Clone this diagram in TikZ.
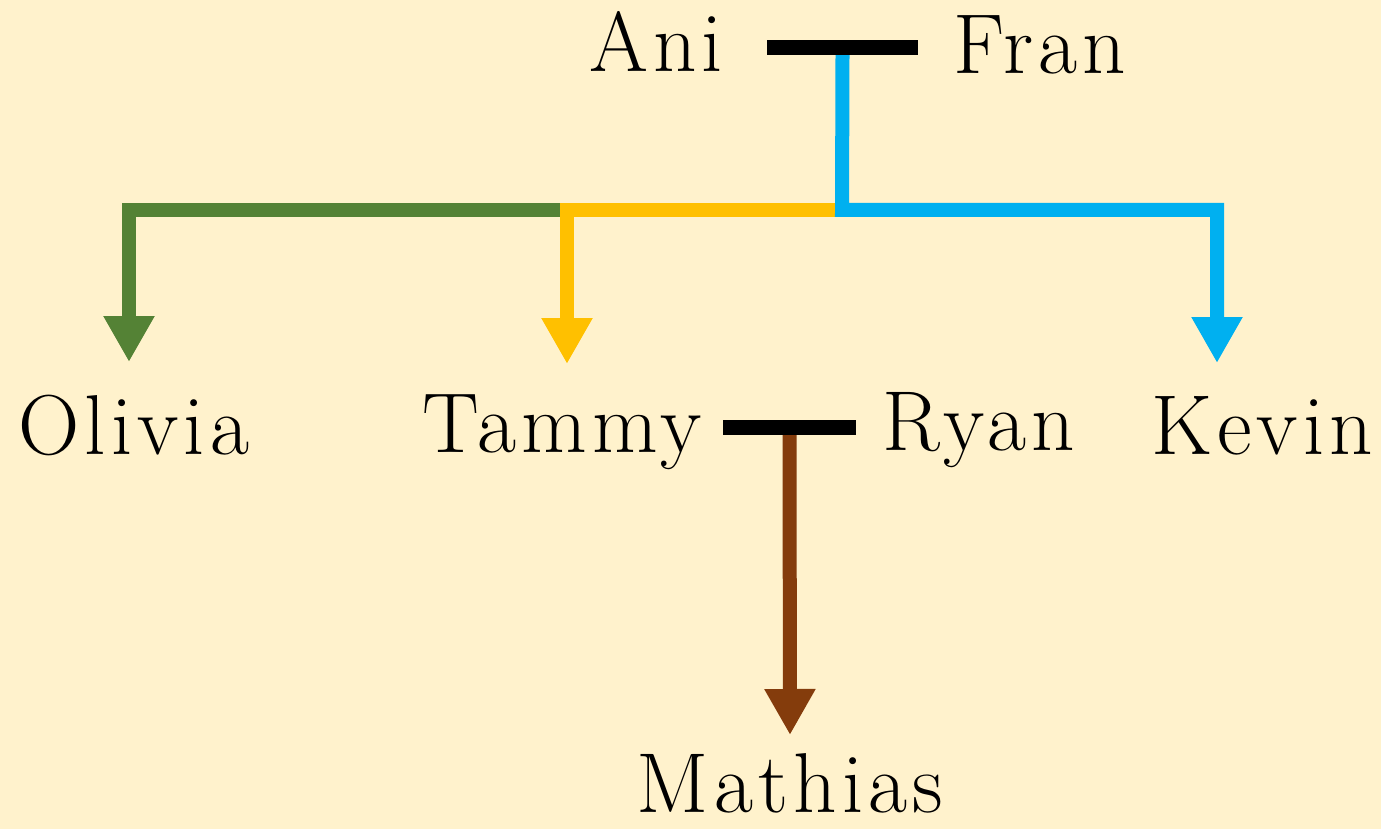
\documentclass[tikz,border=0pt]{standalone}
\usepackage{fontspec}
\newfontfamily\personfont[LetterSpace=6]{Latin Modern Roman}
\usetikzlibrary{arrows.meta}
\definecolor{bg}{HTML}{FFF2CC}
\definecolor{cgreen}{HTML}{548235}
\definecolor{cyellow}{HTML}{FFC000}
\definecolor{cblue}{HTML}{00B0F0}
\definecolor{cbrown}{HTML}{843C0C}
\tikzset{
  person/.style={anchor=base, inner sep=0pt, font=\personfont\fontsize{85}{90}\selectfont},
  bar/.style={fill=black, draw=none, inner sep=0pt, minimum height=15pt},
  link/.style={line width=14pt, -{Triangle[width=48pt,length=46pt]}},
}
\begin{document}
\begin{tikzpicture}[x=1pt,y=-1pt]
\fill[bg] (0,0) rectangle (1381,829);
\useasboundingbox (0,0) rectangle (1381,829);
% people
\node[person] (ani) at (656,72) {Ani};
\node[person] (fran) at (1040,74) {Fran};
\node[person] (olivia) at (134,454) {Olivia};
\node[person] (tammy) at (562,452) {Tammy};
\node[person] (ryan) at (979,450) {Ryan};
\node[person] (kevin) at (1262,454) {Kevin};
\node[person] (mathias) at (790,812) {Mathias};
% marriage bars
\node[bar, minimum width=151pt] (m1) at (842.5,47.5) {};
\node[bar, minimum width=133pt] (m2) at (789.5,427.5) {};
% junctions and arrow ends
\coordinate (j1) at (842,210);
\coordinate (jy) at (567,210);
\coordinate (oin) at (129,362);
\coordinate (tin) at (567,364);
\coordinate (kin) at (1217,363);
\coordinate (min) at (790,735);
% connectors
\draw[link, cgreen] (jy) -| (oin);
\draw[link, cyellow] (j1) -| (tin);
\draw[link, cblue] (m1.south) -- (j1) -| (kin);
\draw[link, cbrown] (m2.south) -- (min);
\end{tikzpicture}
\end{document}
